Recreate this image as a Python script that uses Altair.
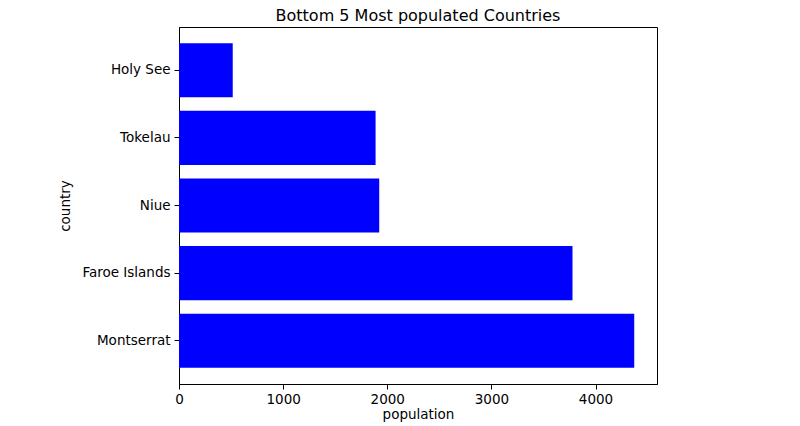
import altair as alt
import pandas as pd

countries = ["Holy See", "Tokelau", "Niue", "Faroe Islands", "Montserrat"]
population = [516, 1888, 1923, 3779, 4372]

df = pd.DataFrame({"country": countries, "population": population})

FONT = "DejaVu Sans"

chart = (
    alt.Chart(df)
    .mark_bar(color="#0000ff")
    .encode(
        x=alt.X(
            "population:Q",
            scale=alt.Scale(domain=[0, 4590.6], nice=False, zero=True),
            axis=alt.Axis(
                title="population",
                values=[0, 1000, 2000, 3000, 4000],
                format="d",
                grid=False,
                domainColor="black",
                tickColor="black",
                tickSize=5,
                labelFlush=False,
                labelFontSize=13.5,
                labelColor="black",
                labelPadding=3,
                titleFontSize=13.5,
                titleFontWeight="normal",
                titleColor="black",
                titlePadding=2,
                labelFont=FONT,
                titleFont=FONT,
            ),
        ),
        y=alt.Y(
            "country:N",
            sort=countries,
            scale=alt.Scale(paddingInner=0.2, paddingOuter=0.24),
            axis=alt.Axis(
                title="country",
                grid=False,
                domainColor="black",
                tickColor="black",
                tickSize=5,
                labelFontSize=13.5,
                labelColor="black",
                labelPadding=4,
                titleFontSize=13.5,
                titleFontWeight="normal",
                titleColor="black",
                titlePadding=9,
                labelFont=FONT,
                titleFont=FONT,
            ),
        ),
    )
    .properties(
        width=478,
        height=357,
        title=alt.TitleParams(
            "Bottom 5 Most populated Countries",
            fontSize=16,
            font=FONT,
            fontWeight="normal",
            color="black",
            anchor="middle",
            offset=3,
        ),
        autosize=alt.AutoSizeParams(type="none"),
        padding={"left": 171, "top": 19, "right": 135, "bottom": 38},
    )
    .configure_view(stroke="black", strokeWidth=1)
)

chart.save("out.html", embed_options={"renderer": "svg", "actions": False})
